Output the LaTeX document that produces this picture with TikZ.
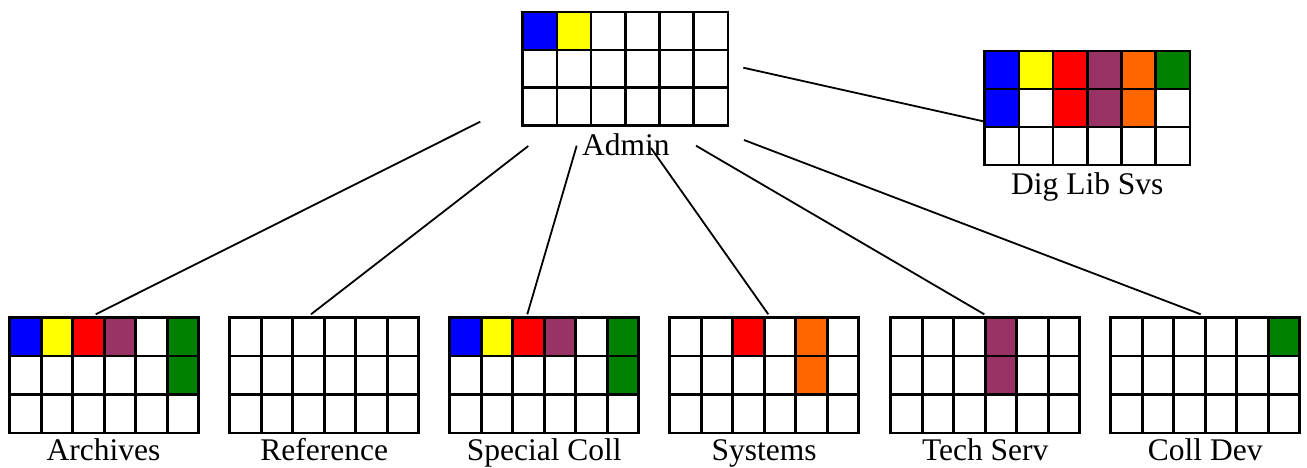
\documentclass[tikz,border=0pt]{standalone}
\usepackage{fontspec}
\setmainfont{Liberation Serif}
\definecolor{cblue}{RGB}{0,0,255}
\definecolor{cyellow}{RGB}{255,255,0}
\definecolor{cred}{RGB}{255,0,0}
\definecolor{cpurple}{RGB}{153,51,102}
\definecolor{corange}{RGB}{255,102,0}
\definecolor{cgreen}{RGB}{0,128,0}
\tikzset{
  gridline/.style={line width=2.6pt, draw=black},
  conn/.style={line width=1.8pt, draw=black},
  lbl/.style={font=\fontsize{31.5}{37}\selectfont, inner sep=0pt, anchor=base},
}
\newcommand{\orggrid}[6]{%
  \begin{scope}[shift={(#2,#3)}]
    \foreach \c/\r/\col in {#6} {
      \fill[\col] ({(\c-1)*#4/6},{(\r-1)*#5/3}) rectangle ({\c*#4/6},{\r*#5/3});
    }
    \foreach \i in {1,...,5} {
      \draw[gridline] ({\i*#4/6},0) -- ({\i*#4/6},#5);
    }
    \foreach \j in {1,2} {
      \draw[gridline] (0,{\j*#5/3}) -- (#4,{\j*#5/3});
    }
    \node[gridline, draw, inner sep=0pt, outer sep=0pt, minimum width=#4pt, minimum height=#5pt, anchor=north west] (#1) at (0,0) {};
  \end{scope}%
}
\begin{document}
\begin{tikzpicture}[x=1pt,y=-1pt]
\useasboundingbox (0,0) rectangle (1307,468);
\fill[white] (0,0) rectangle (1307,468);

% grids
\orggrid{admin}{522.7}{12}{205.3}{113.7}{1/1/cblue,2/1/cyellow}
\orggrid{diglib}{984.7}{51}{205.3}{114}{1/1/cblue,2/1/cyellow,3/1/cred,4/1/cpurple,5/1/corange,6/1/cgreen,1/2/cblue,3/2/cred,4/2/cpurple,5/2/corange}
\orggrid{archives}{9.7}{317.7}{189}{115.3}{1/1/cblue,2/1/cyellow,3/1/cred,4/1/cpurple,6/1/cgreen,6/2/cgreen}
\orggrid{reference}{229.7}{317.7}{189}{115.3}{1/1/white}
\orggrid{special}{449.7}{317.7}{189}{115.3}{1/1/cblue,2/1/cyellow,3/1/cred,4/1/cpurple,6/1/cgreen,6/2/cgreen}
\orggrid{systems}{669.7}{317.7}{189}{115.3}{3/1/cred,5/1/corange,5/2/corange}
\orggrid{techserv}{890.7}{317.7}{189}{115.3}{4/1/cpurple,4/2/cpurple}
\orggrid{colldev}{1110.7}{317.7}{189}{115.3}{6/1/cgreen}

% labels
\node[lbl] (admin-lbl) at (625.8,156) {Admin};
\node[lbl] (diglib-lbl) at (1087.3,194) {Dig Lib Svs};
\node[lbl] (archives-lbl) at (103.5,460.5) {Archives};
\node[lbl] (reference-lbl) at (324.2,460) {Reference};
\node[lbl] (special-lbl) at (544.2,460) {Special Coll};
\node[lbl] (systems-lbl) at (764.2,460) {Systems};
\node[lbl] (techserv-lbl) at (985.2,460) {Tech Serv};
\node[lbl] (colldev-lbl) at (1205.2,460) {Coll Dev};

% connector end points
\coordinate (a1) at (480.3,121.7); \coordinate (a2) at (95.7,314.3);
\coordinate (r1) at (528.3,146);   \coordinate (r2) at (311,314.3);
\coordinate (s1) at (576.7,145.7); \coordinate (s2) at (527.3,314.3);
\coordinate (y1) at (651,148);     \coordinate (y2) at (768.3,314.3);
\coordinate (t1) at (696,145.7);   \coordinate (t2) at (984.3,314.3);
\coordinate (c1) at (744,140);     \coordinate (c2) at (1200.7,314.3);
\coordinate (d1) at (743.3,67.7);  \coordinate (d2) at (985,121.7);

\draw[conn] (a1) -- (a2);
\draw[conn] (r1) -- (r2);
\draw[conn] (s1) -- (s2);
\draw[conn] (y1) -- (y2);
\draw[conn] (t1) -- (t2);
\draw[conn] (c1) -- (c2);
\draw[conn] (d1) -- (d2);
\end{tikzpicture}
\end{document}
